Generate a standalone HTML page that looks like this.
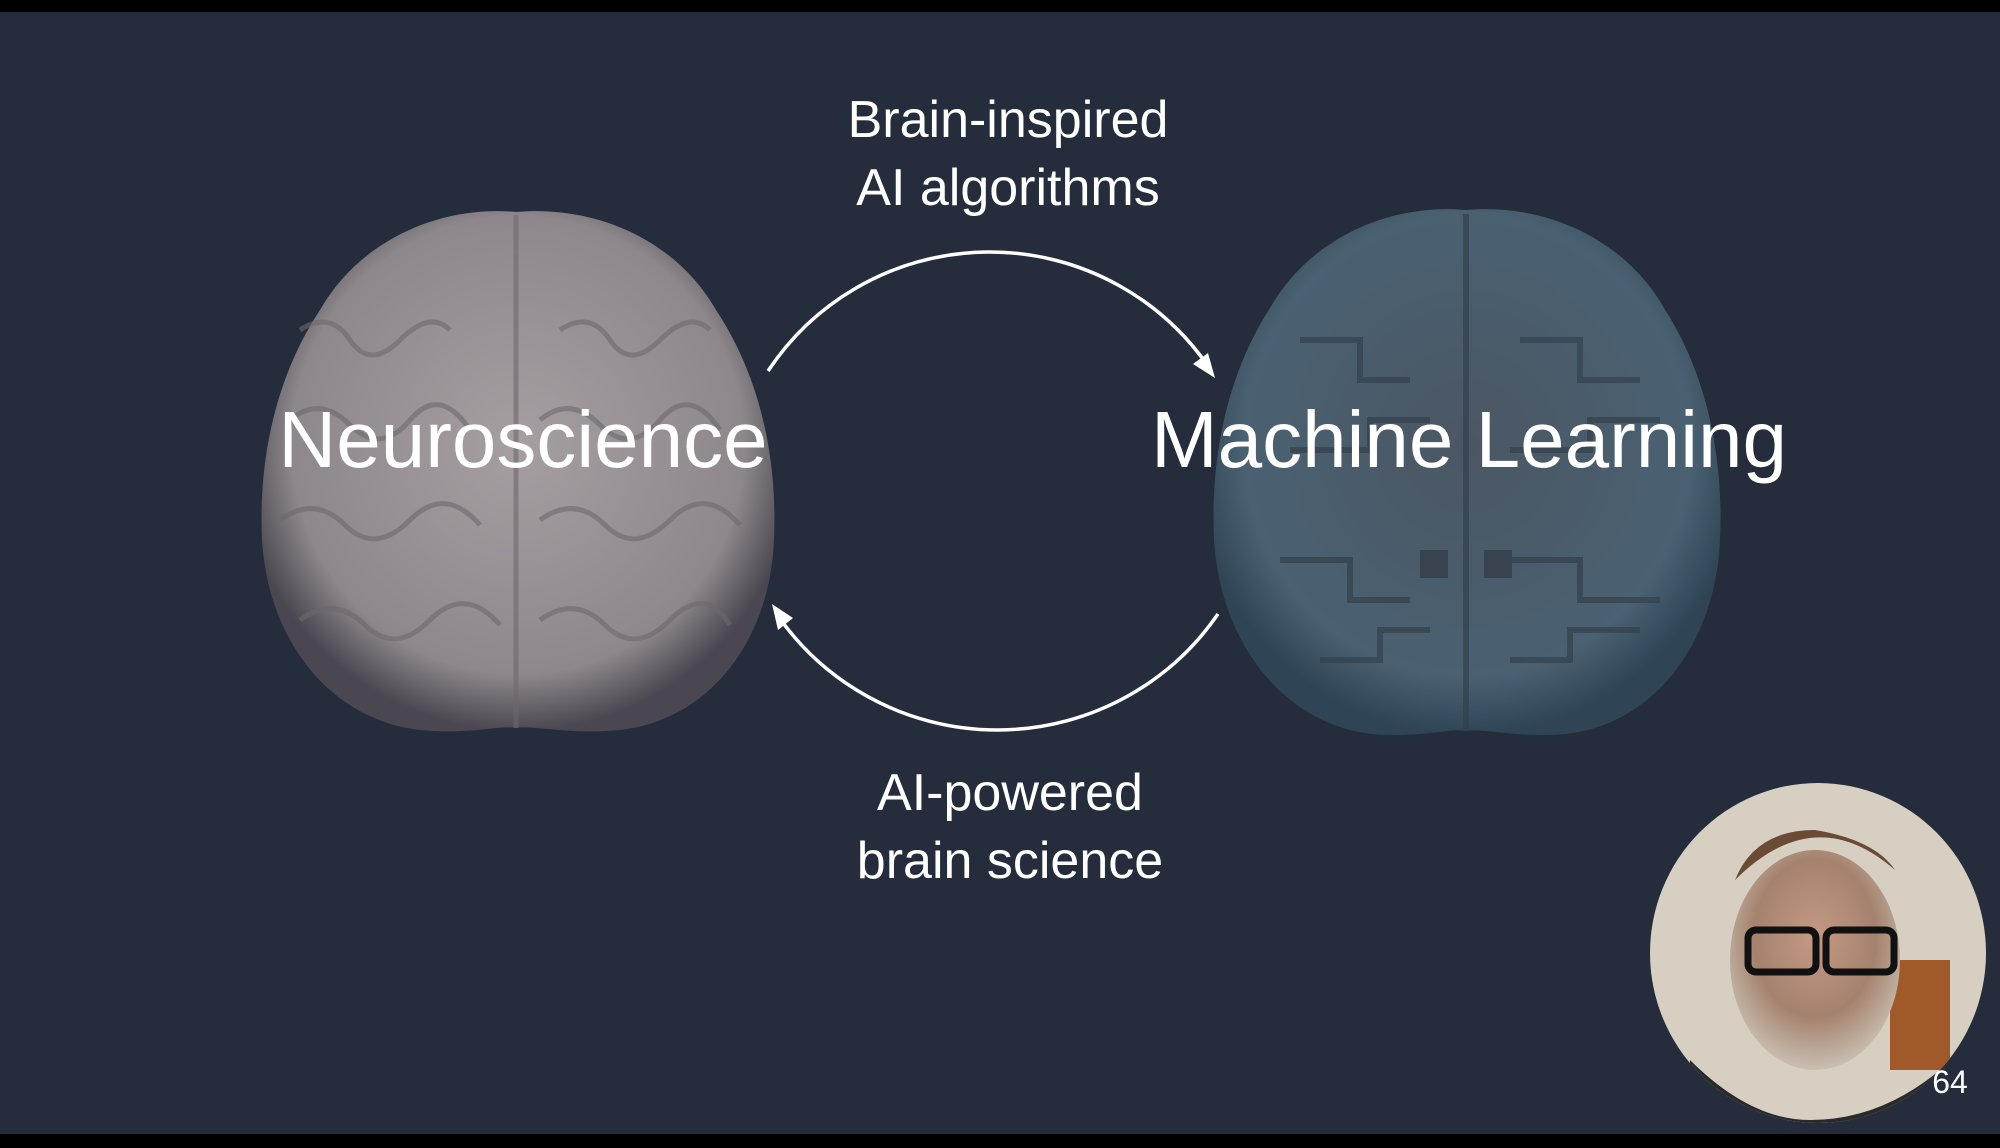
<!DOCTYPE html>
<html><head><style>
html,body{margin:0;padding:0;}
body{width:2000px;height:1148px;background:#252c3b;position:relative;overflow:hidden;font-family:"Liberation Sans",sans-serif;color:#fff;}
.t{position:absolute;white-space:nowrap;text-align:center;transform:translateX(-50%);}
</style></head><body>
<div style="position:absolute;left:0;top:0;width:2000px;height:12px;background:#000"></div>
<div style="position:absolute;left:0;top:1134px;width:2000px;height:14px;background:#000"></div>
<svg width="2000" height="1148" style="position:absolute;left:0;top:0">
<defs>
<radialGradient id="g1" cx="50%" cy="45%" r="55%"><stop offset="0" stop-color="#a59fa2"/><stop offset="0.8" stop-color="#8e888c"/><stop offset="1" stop-color="#4a4750"/></radialGradient>
<radialGradient id="g2" cx="50%" cy="45%" r="55%"><stop offset="0" stop-color="#4b5663"/><stop offset="0.8" stop-color="#4a6172"/><stop offset="1" stop-color="#2f4556"/></radialGradient>
<radialGradient id="g3" cx="50%" cy="40%" r="60%"><stop offset="0" stop-color="#c49a84"/><stop offset="0.6" stop-color="#a5826e"/><stop offset="1" stop-color="#c9bfb2"/></radialGradient>
</defs>
<path d="M516,212 C440,205 360,240 320,310 C280,370 258,450 262,540 C268,640 330,720 420,730 C470,735 500,725 516,728 C532,725 570,735 620,730 C710,720 770,640 774,540 C778,450 756,370 716,310 C676,240 596,205 516,212 Z" fill="url(#g1)"/>
<g stroke="#6f686c" stroke-width="5" fill="none" opacity="0.6">
<path d="M516,215 L516,728"/>
<path d="M300,330 q30,-20 50,10 t50,0 t50,-10"/><path d="M290,420 q30,-25 60,5 t60,-5 t60,10"/>
<path d="M280,520 q35,-25 65,5 t65,-5 t70,5"/><path d="M300,620 q35,-25 65,5 t65,-5 t70,5"/>
<path d="M560,330 q30,-20 50,10 t50,0 t50,-10"/><path d="M540,420 q30,-25 60,5 t60,-5 t60,10"/>
<path d="M540,520 q35,-25 65,5 t65,-5 t70,5"/><path d="M540,620 q35,-25 65,5 t65,-5 t60,5"/>
</g>
<path d="M1466,210 C1390,203 1310,238 1270,308 C1230,370 1210,450 1214,540 C1220,640 1282,724 1372,734 C1420,738 1450,728 1466,731 C1482,728 1516,738 1566,734 C1656,724 1716,640 1720,540 C1724,450 1704,370 1664,308 C1624,238 1544,203 1466,210 Z" fill="url(#g2)"/>
<g stroke="#34404c" stroke-width="6" fill="none" opacity="0.7">
<path d="M1466,214 L1466,730"/>
<path d="M1300,340 h60 v40 h50"/><path d="M1290,450 h80 v-30 h60"/><path d="M1280,560 h70 v40 h60"/><path d="M1320,660 h60 v-30 h50"/>
<path d="M1520,340 h60 v40 h60"/><path d="M1510,450 h80 v-30 h70"/><path d="M1510,560 h70 v40 h80"/><path d="M1510,660 h60 v-30 h70"/>
</g>
<rect x="1420" y="550" width="28" height="28" fill="#3a4450"/><rect x="1484" y="550" width="28" height="28" fill="#3a4450"/>
<path d="M768,371 A266,266 0 0 1 1208,366" stroke="#fff" stroke-width="3.5" fill="none"/>
<polygon points="1215,378 1193,364 1208,353" fill="#fff"/>
<path d="M1218,614 A268,268 0 0 1 778,616" stroke="#fff" stroke-width="3.5" fill="none"/>
<polygon points="772,604 793,618 778,630" fill="#fff"/>
<clipPath id="cc"><ellipse cx="1818" cy="953" rx="168" ry="170"/></clipPath>
<g clip-path="url(#cc)">
<rect x="1640" y="780" width="360" height="350" fill="#d8cfc3"/>
<rect x="1890" y="960" width="60" height="110" fill="#a05a2a"/>
<ellipse cx="1815" cy="960" rx="85" ry="110" fill="url(#g3)"/>
<path d="M1735,880 q80,-80 160,-10 q-20,-30 -80,-40 q-60,0 -80,50z" fill="#6b4a36"/>
<rect x="1748" y="930" width="68" height="42" rx="8" fill="none" stroke="#111" stroke-width="7"/>
<rect x="1826" y="930" width="68" height="42" rx="8" fill="none" stroke="#111" stroke-width="7"/>
<path d="M1690,1060 q60,60 120,60 q70,0 130,-50 v70 h-250z" fill="#2a2a2a"/>
</g>
</svg>
<div class="t" style="left:523px;top:394px;font-size:80px;">Neuroscience</div>
<div class="t" style="left:1469px;top:394px;font-size:80px;">Machine Learning</div>
<div class="t" style="left:1008px;top:86px;font-size:52px;line-height:68px;">Brain-inspired<br>AI algorithms</div>
<div class="t" style="left:1010px;top:759px;font-size:52px;line-height:68px;">AI-powered<br>brain science</div>
<div class="t" style="left:1950px;top:1064px;font-size:32px;">64</div>
</body></html>
